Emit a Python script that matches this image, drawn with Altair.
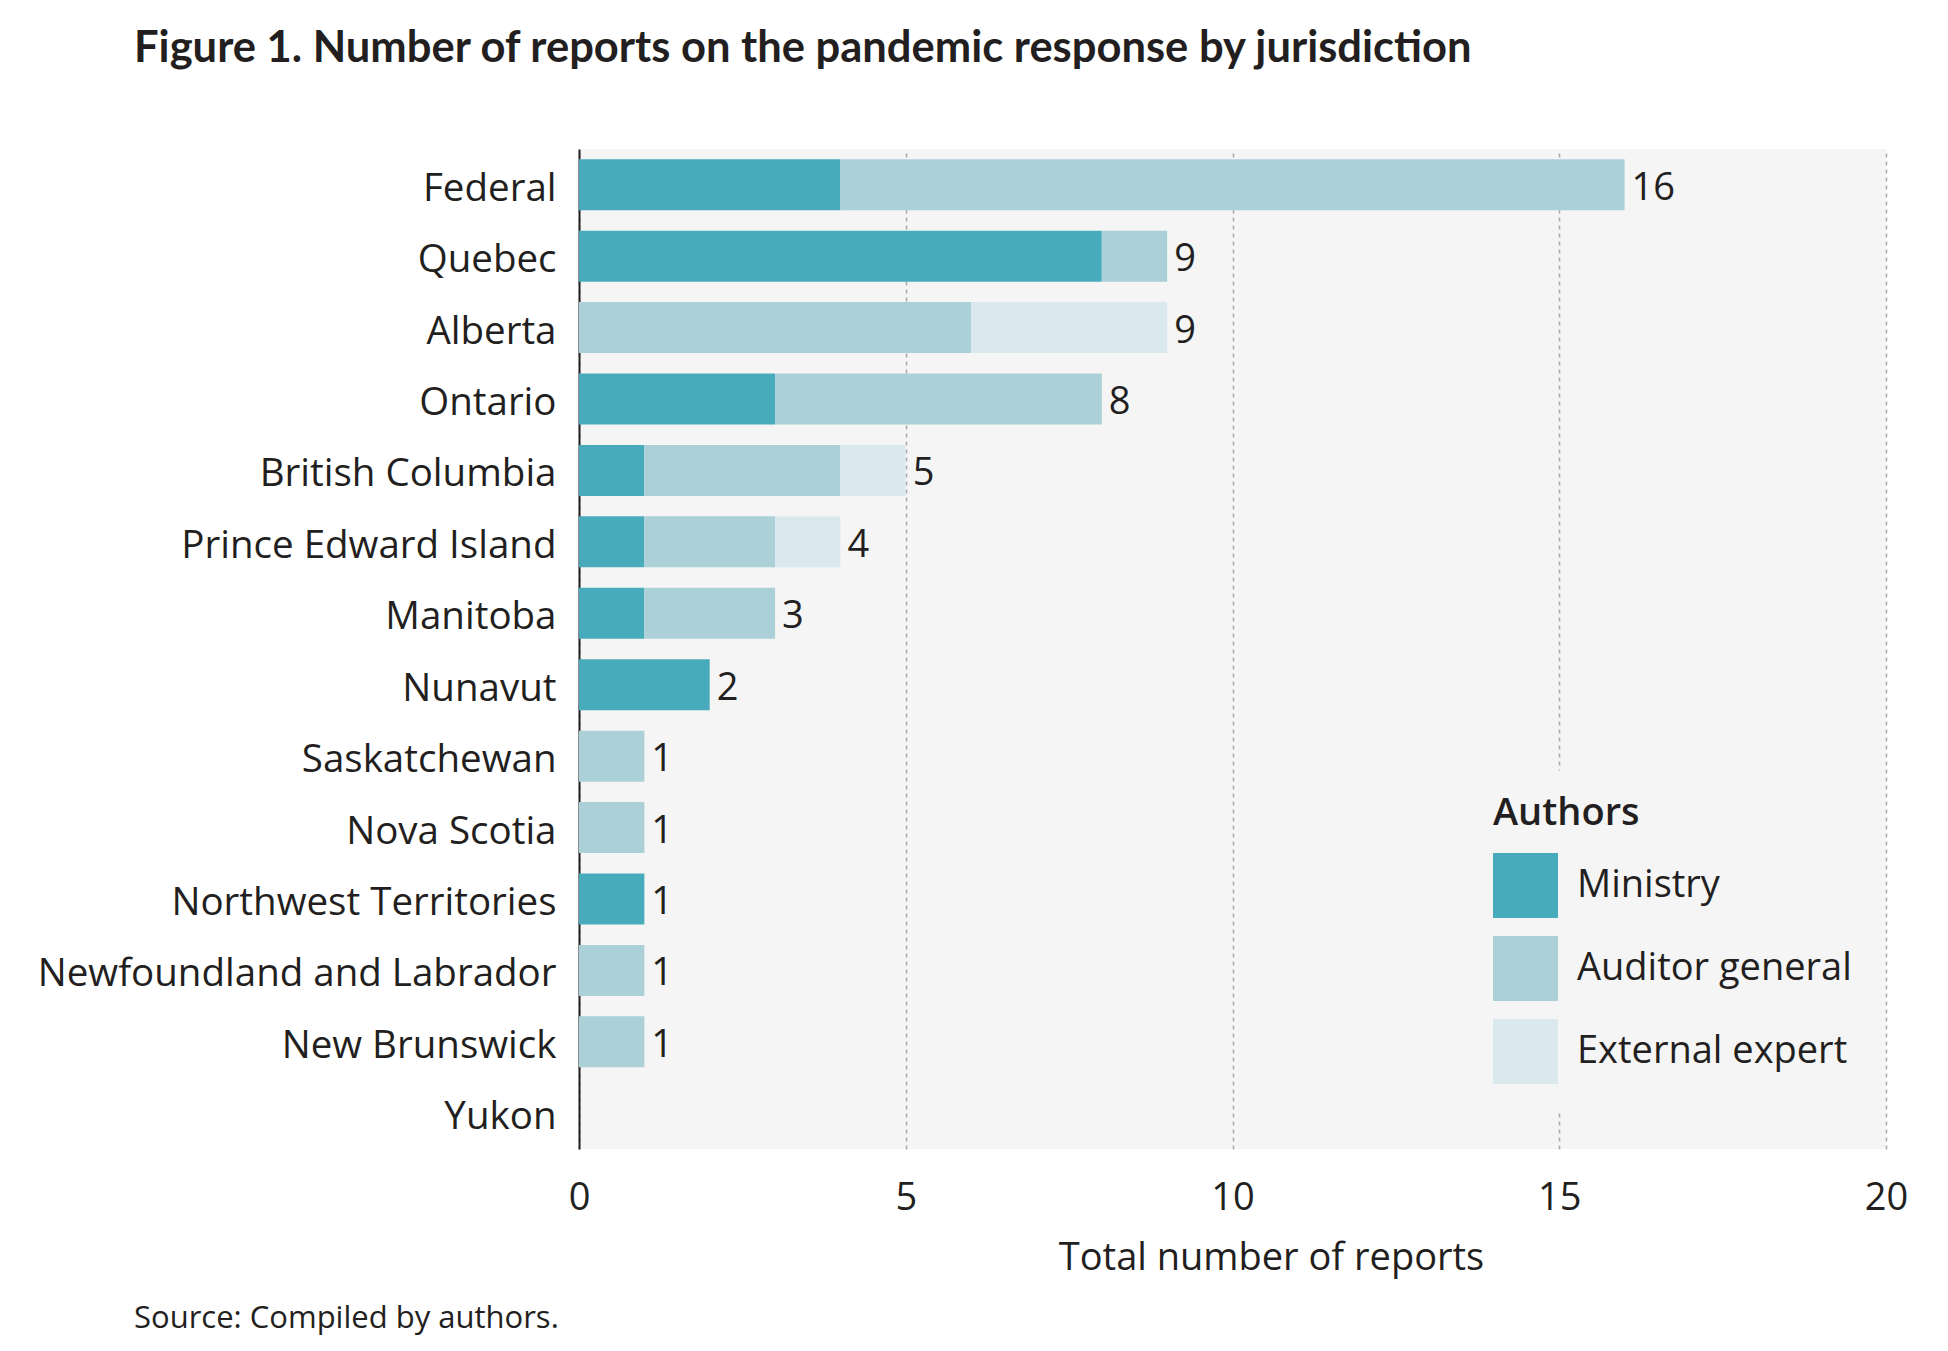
import altair as alt
import pandas as pd

FONT = "Open Sans"
TFONT = "Lato"
INK = "#231f20"
BG = "#f5f5f5"

jurisdictions = ["Federal", "Quebec", "Alberta", "Ontario", "British Columbia",
                 "Prince Edward Island", "Manitoba", "Nunavut", "Saskatchewan",
                 "Nova Scotia", "Northwest Territories", "Newfoundland and Labrador",
                 "New Brunswick", "Yukon"]
ministry = [4, 8, 0, 3, 1, 1, 1, 2, 0, 0, 1, 0, 0, 0]
auditor = [12, 1, 6, 5, 3, 2, 2, 0, 1, 1, 0, 1, 1, 0]
external = [0, 0, 3, 0, 1, 1, 0, 0, 0, 0, 0, 0, 0, 0]

authors = ["Ministry", "Auditor general", "External expert"]
colors = ["#48abbb", "#abd0d8", "#dbe9ef"]

rows = []
for j, m, a, e in zip(jurisdictions, ministry, auditor, external):
    for k, (name, v) in enumerate(zip(authors, [m, a, e])):
        if v > 0:
            rows.append({"jurisdiction": j, "author": name, "reports": v, "ord": k})
df = pd.DataFrame(rows)

totals = pd.DataFrame({
    "jurisdiction": jurisdictions,
    "total": [m + a + e for m, a, e in zip(ministry, auditor, external)],
})
totals = totals[totals["total"] > 0]

yenc = alt.Y("jurisdiction:N",
             scale=alt.Scale(domain=jurisdictions, paddingInner=0.286, paddingOuter=0.143),
             sort=jurisdictions,
             axis=alt.Axis(title=None, ticks=False, domain=True, domainColor=INK, domainWidth=2,
                           labelPadding=23, labelFontSize=38.5, labelColor=INK, labelFont=FONT,
                           labelOffset=4, labelLimit=700, grid=False))

bars = alt.Chart(df).mark_bar().encode(
    x=alt.X("reports:Q", stack="zero",
            scale=alt.Scale(domain=[0, 20], nice=False),
            axis=alt.Axis(values=[0, 5, 10, 15, 20], format="d", title="Total number of reports",
                          grid=True, gridDash=[4, 4], gridColor="#a9a9a9", gridWidth=1.5,
                          domain=False, ticks=False, labelPadding=30, labelFontSize=38,
                          labelFlush=False,
                          labelColor=INK, labelFont=FONT, titleFontSize=38, titleFont=FONT,
                          titleFontWeight="normal", titleColor=INK, titlePadding=22,
                          titleX=692, titleAlign="center")),
    y=yenc,
    color=alt.Color("author:N", scale=alt.Scale(domain=authors, range=colors),
                    legend=alt.Legend(title="Authors", orient="none", legendX=889, legendY=621,
                                      padding=25, fillColor=BG, strokeColor="transparent",
                                      titleFontSize=38, titleFontWeight=600, titleFont=FONT,
                                      titleColor=INK, titlePadding=20,
                                      symbolType="square", symbolSize=4225, symbolStrokeWidth=0,
                                      symbolOpacity=1,
                                      labelFontSize=38, labelFont=FONT, labelColor=INK,
                                      labelOffset=19, rowPadding=18, labelLimit=500)),
    order=alt.Order("ord:Q", sort="ascending"),
)

labels = alt.Chart(totals).mark_text(align="left", baseline="middle", dx=7, dy=4,
                                     fontSize=38, font=FONT, color=INK).encode(
    x=alt.X("total:Q"),
    y=alt.Y("jurisdiction:N", sort=jurisdictions),
    text=alt.Text("total:Q"),
)

source = alt.Chart(pd.DataFrame({"t": ["Source: Compiled by authors."]})).mark_text(
    align="left", baseline="alphabetic", fontSize=31, font=FONT, color=INK
).encode(x=alt.value(-445), y=alt.value(1179), text="t:N")

chart = alt.layer(bars, labels, source).properties(
    width=1307, height=1000,
    autosize=alt.AutoSizeParams(type="none"),
    padding={"left": 571, "top": 141, "right": 45, "bottom": 190},
    view=alt.ViewBackground(fill=BG, stroke="transparent", strokeWidth=0),
    title=alt.TitleParams("Figure 1. Number of reports on the pandemic response by jurisdiction",
                          anchor="start", frame="group", dx=-445, offset=78,
                          fontSize=43.5, font=TFONT, fontWeight="bold", color=INK),
).configure_view(fill=BG, stroke="transparent", strokeWidth=0).configure(background="white")

chart.save("out.html", embed_options={"renderer": "svg", "actions": False})
